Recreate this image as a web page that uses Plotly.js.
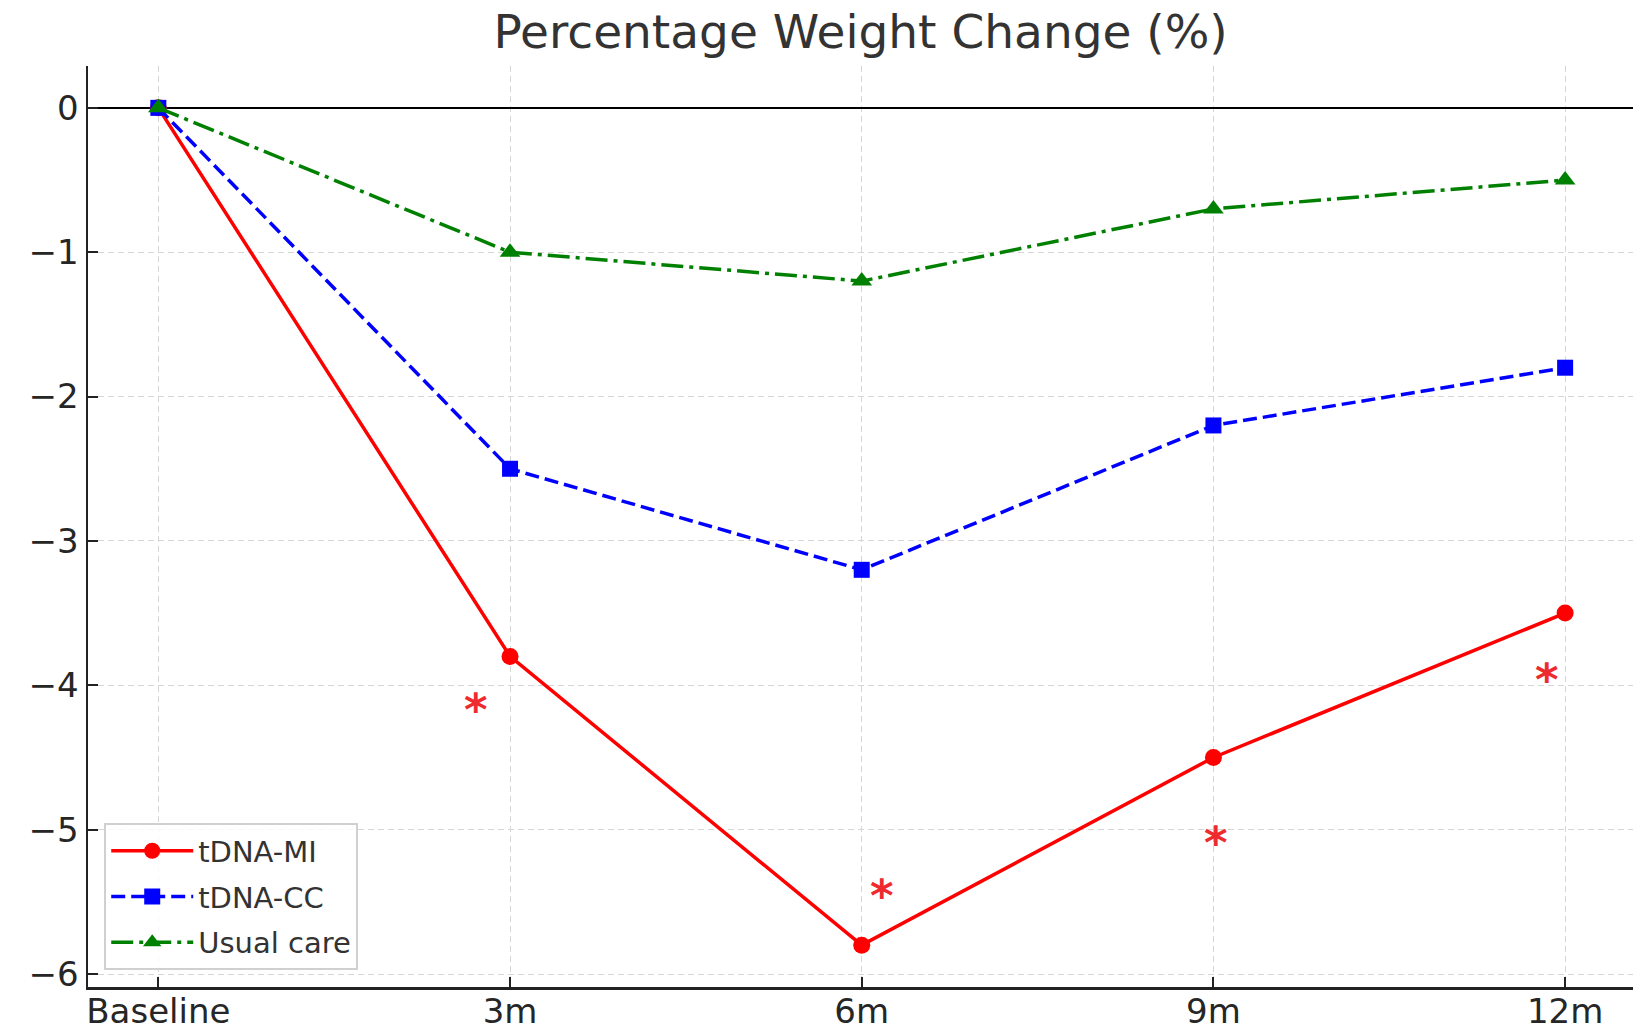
<!DOCTYPE html>
<html>
<head>
<meta charset="utf-8">
<script src="https://cdn.plot.ly/plotly-3.0.1.min.js"></script>
<style>html,body{margin:0;padding:0;background:#fff;}#chart{width:1633px;height:1031px;}</style>
</head>
<body>
<div id="chart"></div>
<script>
const timepoints = ["Baseline", "3m", "6m", "9m", "12m"];
const tdnaMI = [0, -3.8, -5.8, -4.5, -3.5];
const tdnaCC = [0, -2.5, -3.2, -2.2, -1.8];
const usualCare = [0, -1.0, -1.2, -0.7, -0.5];
// significance markers (category index position, value)
const starX = [0.904, 2.058, 3.008, 3.949];
const starY = [-4.12, -5.41, -5.04, -3.91];
const yTicks = [0, -1, -2, -3, -4, -5, -6];

const traces = [
  {x: timepoints, y: tdnaMI, name: "tDNA-MI", legendgroup: "a", type: "scatter", mode: "lines+markers",
   line: {color: "#ff0000", width: 3.5}, marker: {symbol: "circle", size: 17, color: "#ff0000"}},
  {x: timepoints, y: tdnaCC, name: "tDNA-CC", legendgroup: "b", type: "scatter", mode: "lines+markers",
   line: {color: "#0000ff", width: 3.5, dash: "14px,6px"}, marker: {symbol: "square", size: 16, color: "#0000ff"}},
  {x: timepoints, y: usualCare, name: "Usual care", legendgroup: "c", type: "scatter", mode: "lines+markers",
   line: {color: "#008000", width: 3.5, dash: "22px,6px,4px,6px"}, marker: {symbol: "triangle-up", size: 18, color: "#008000"}}
];

const annotations = starX.map((sx, i) => ({
  x: sx, y: starY[i], xref: "x", yref: "y", text: "<b>*</b>", showarrow: false,
  xanchor: "center", yanchor: "middle", yshift: -7,
  font: {family: "DejaVu Sans", size: 45, color: "#ee2a2f"}
}));

const layout = {
  width: 1633, height: 1031,
  margin: {l: 88, r: 0, t: 66, b: 44},
  paper_bgcolor: "#ffffff", plot_bgcolor: "#ffffff",
  font: {family: "DejaVu Sans", color: "#262626"},
  title: {text: "Percentage Weight Change (%)", x: 0.527, xanchor: "center", y: 0.969, yanchor: "middle",
          font: {family: "DejaVu Sans", size: 47, color: "#333333"}},
  showlegend: true,
  legend: {x: 0.0105, y: 0.018, xanchor: "left", yanchor: "bottom", bgcolor: "rgba(255,255,255,0.85)",
           bordercolor: "#d0d0d0", borderwidth: 2, font: {family: "DejaVu Sans", size: 29, color: "#333333"},
           tracegroupgap: 5, itemwidth: 82},
  xaxis: {type: "category", categoryorder: "array", categoryarray: timepoints,
          range: [-0.2, 4.193], showgrid: true, gridcolor: "#d6d6d6", griddash: "6px,4px", gridwidth: 1,
          showline: true, linecolor: "#222222", linewidth: 2.5, mirror: false,
          ticks: "inside", ticklen: 10, tickwidth: 2, tickcolor: "#222222", ticklabelstandoff: -7,
          tickfont: {family: "DejaVu Sans", size: 34, color: "#262626"}, zeroline: false, fixedrange: true},
  yaxis: {range: [-6.09, 0.29], tickvals: yTicks, showgrid: true, gridcolor: "#d6d6d6", griddash: "6px,4px", gridwidth: 1,
          showline: true, linecolor: "#222222", linewidth: 2.5, mirror: false,
          ticks: "inside", ticklen: 10, tickwidth: 2, tickcolor: "#222222",
          tickfont: {family: "DejaVu Sans", size: 34, color: "#262626"},
          zeroline: true, zerolinecolor: "#000000", zerolinewidth: 2, fixedrange: true},
  annotations: annotations
};

Plotly.newPlot("chart", traces, layout, {displayModeBar: false, staticPlot: true});
</script>
</body>
</html>
